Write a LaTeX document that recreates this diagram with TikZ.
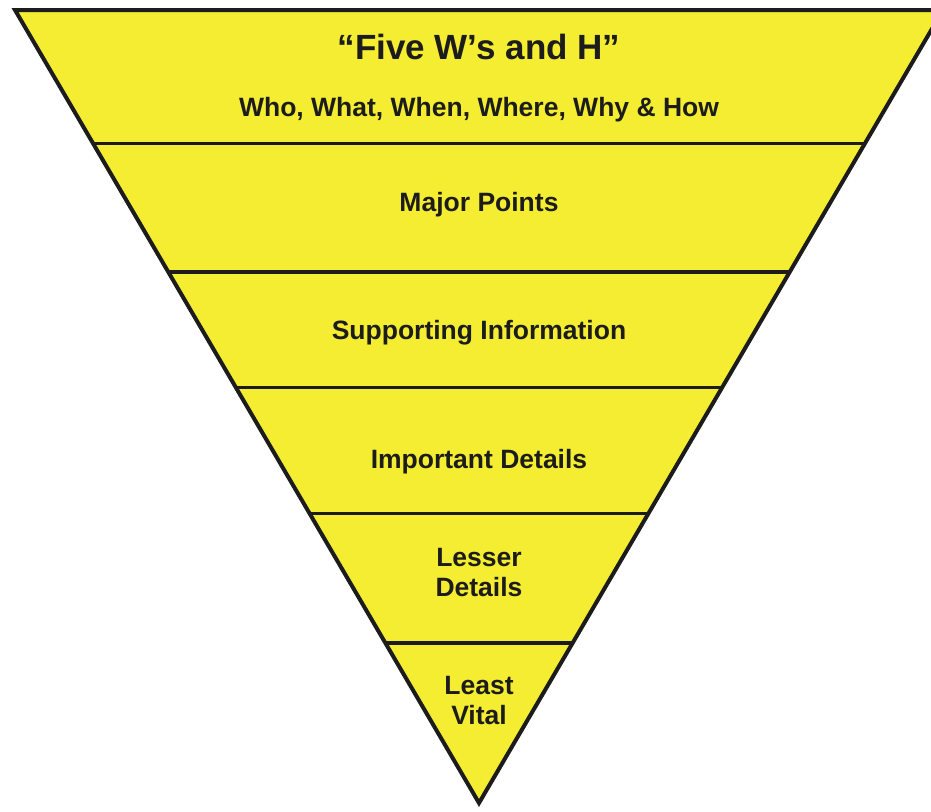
\documentclass[tikz,border=0pt]{standalone}
\usepackage{fontspec}
\setmainfont{Liberation Sans}
\usetikzlibrary{calc}
\definecolor{pyellow}{RGB}{244,237,50}
\definecolor{pline}{RGB}{28,28,28}
\begin{document}
\begin{tikzpicture}[x=1pt,y=-1pt,line join=miter,
  edge/.style={draw=pline,line width=4pt},
  divider/.style={draw=pline,line width=3.6pt},
  lbl/.style={font=\bfseries\fontsize{26.5}{30}\selectfont,text=pline,align=center,inner sep=0pt},
  ttl/.style={font=\bfseries\fontsize{35}{40}\selectfont,text=pline,inner sep=0pt}]
\useasboundingbox (0,0) rectangle (931,811);
\coordinate (TL) at (15,10);
\coordinate (TR) at (943,10);
\coordinate (A) at (479,803);
\fill[pyellow] (TL) -- (TR) -- (A) -- cycle;
% divider end points on the two edges
\foreach \n/\yy in {1/143.5,2/272,3/387.5,4/513.5,5/643}{
  \coordinate (L\n) at ($(TL)!{(\yy-10)/793}!(A)$);
  \coordinate (R\n) at ($(TR)!{(\yy-10)/793}!(A)$);
}
\foreach \n in {1,...,5}{\draw[divider] (L\n) -- (R\n);}
\draw[edge] (TL) -- (TR) -- (A) -- cycle;
% labels
\node[ttl] (title) at (479,47) {“Five W’s and H”};
\node[lbl] (ws) at (479,110) {Who, What, When, Where, Why \& How};
\node[lbl] (major) at (479,205) {Major Points};
\node[lbl] (support) at (479,333) {Supporting Information};
\node[lbl] (important) at (479,462) {Important Details};
\node[lbl] (lesser) at (479,573) {Lesser\\Details};
\node[lbl] (least) at (479,701) {Least\\Vital};
\end{tikzpicture}
\end{document}
